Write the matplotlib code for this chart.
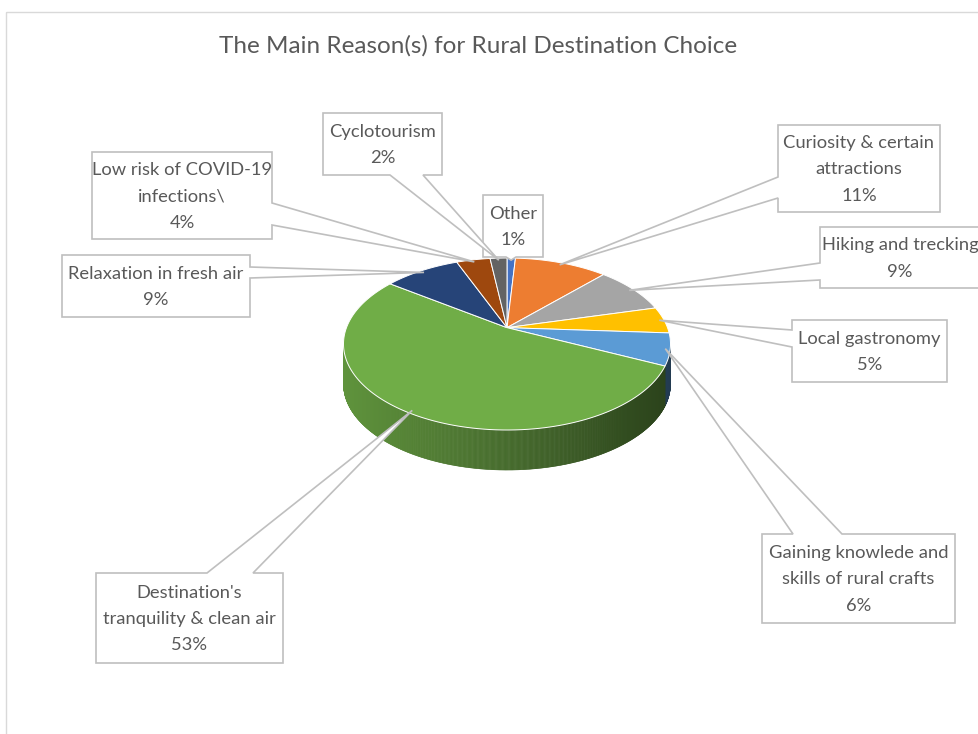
import numpy as np
import matplotlib.pyplot as plt
from matplotlib.patches import Polygon, Rectangle
from matplotlib.collections import PolyCollection
from matplotlib.colors import to_rgb

title = "The Main Reason(s) for Rural Destination Choice"

# slices in drawing order, clockwise from 12 o'clock
reasons = ["Other",
           "Curiosity & certain\nattractions",
           "Hiking and trecking",
           "Local gastronomy",
           "Gaining knowlede and\nskills of rural crafts",
           "Destination's\ntranquility & clean air",
           "Relaxation in fresh air",
           "Low risk of COVID-19\ninfections\\",
           "Cyclotourism"]
shares = [1, 11, 9, 5, 6, 53, 9, 4, 2]
colors = ["#4472C4", "#ED7D31", "#A5A5A5", "#FFC000", "#5B9BD5",
          "#70AD47", "#264478", "#9E480E", "#636363"]

# callout boxes: (left, top, right, bottom), side the pointer leaves from,
# pointer base, horizontal text nudge
boxes = [((483, 195, 543, 257), "bottom", (506, 516), 0),
         ((778, 125, 940, 212), "left", (177, 198), 0),
         ((820, 227, 990, 288), "left", (263, 280), -5),
         ((792, 320, 947, 382), "left", (330, 347), 0),
         ((762, 534, 955, 623), "top", (793, 842), 0),
         ((96, 573, 283, 663), "top", (207, 253), 0),
         ((62, 255, 250, 317), "right", (267, 278), 0),
         ((92, 152, 272, 239), "right", (203, 225), 0),
         ((323, 113, 442, 175), "bottom", (390, 423), 0)]

# pie geometry (pixel units)
cx, cy = 507, 344
rx, ry = 163.5, 86
depth = 40
tilt = 0.19  # how far the pie centre sits above the ellipse centre
a = np.arctanh(tilt)


def rim(theta, scale=1.0):
    """Point on the top rim for a flat-circle angle theta (radians)."""
    s, c = np.sin(theta), np.cos(theta)
    w = s * np.sinh(a) + np.cosh(a)
    X = c / w
    Y = (s * np.cosh(a) + np.sinh(a)) / w
    ax0, ay0 = cx, cy - ry * tilt
    x = cx + rx * X
    y = cy - ry * Y
    return ax0 + (x - ax0) * scale, ay0 + (y - ay0) * scale, X, Y


apex = (cx, cy - ry * tilt)

fig = plt.figure(figsize=(9.79, 7.34), dpi=100)
ax = fig.add_axes([0, 0, 1, 1])
ax.set_xlim(0, 979)
ax.set_ylim(734, 0)
ax.axis("off")

ax.add_patch(Rectangle((6, 12), 1000, 800, fill=False, ec="#d9d9d9", lw=1))

fracs = np.cumsum([0] + shares) / sum(shares)
starts = np.pi / 2 - 2 * np.pi * fracs[:-1]
ends = np.pi / 2 - 2 * np.pi * fracs[1:]

# side wall of the front half
quads, qcols = [], []
for t0, t1, col in zip(starts, ends, colors):
    n = max(int(abs(t1 - t0) / np.radians(0.25)), 2)
    ts = np.linspace(t0, t1, n)
    xs, ys, Xs, Ys = rim(ts)
    base = np.array(to_rgb(col))
    for i in range(n - 1):
        if Ys[i] > 0.002 and Ys[i + 1] > 0.002:
            continue
        shade = 0.615 - 0.235 * (Xs[i] + Xs[i + 1]) / 2
        quads.append([(xs[i], ys[i]), (xs[i + 1], ys[i + 1]),
                      (xs[i + 1], ys[i + 1] + depth), (xs[i], ys[i] + depth)])
        qcols.append(np.clip(base * shade, 0, 1))
ax.add_collection(PolyCollection(quads, facecolors=qcols, edgecolors=qcols,
                                 linewidths=0.4))

# top face
for t0, t1, col in zip(starts, ends, colors):
    n = max(int(abs(t1 - t0) / np.radians(0.5)), 2)
    xs, ys, _, _ = rim(np.linspace(t0, t1, n))
    pts = [apex] + list(zip(xs, ys))
    ax.add_patch(Polygon(pts, closed=True, fc=col, ec="white", lw=0.7))

# callouts
for name, v, t0, t1, (box, side, base, dx) in zip(reasons, shares, starts, ends, boxes):
    l, t, r, b = box
    tx, ty, _, _ = rim((t0 + t1) / 2, 0.97)
    if side == "bottom":
        path = [(l, t), (r, t), (r, b), (base[1], b), (tx, ty), (base[0], b), (l, b)]
    elif side == "top":
        path = [(l, t), (base[0], t), (tx, ty), (base[1], t), (r, t), (r, b), (l, b)]
    elif side == "left":
        path = [(l, t), (r, t), (r, b), (l, b), (l, base[1]), (tx, ty), (l, base[0])]
    else:
        path = [(l, t), (r, t), (r, base[0]), (tx, ty), (r, base[1]), (r, b), (l, b)]
    ax.add_patch(Polygon(path, closed=True, fc="white", ec="#bfbfbf", lw=1.2,
                         joinstyle="miter", zorder=3))
    ax.text((l + r) / 2 + dx, (t + b) / 2 + 1, f"{name}\n{v}%", ha="center",
            va="center", fontsize=13.2, family="Lato", color="#595959",
            linespacing=1.8, zorder=4)

ax.text(478, 46, title, ha="center", va="center", fontsize=17.5,
        family="Lato", color="#595959")

fig.savefig("out.png", dpi=100, facecolor="white")
